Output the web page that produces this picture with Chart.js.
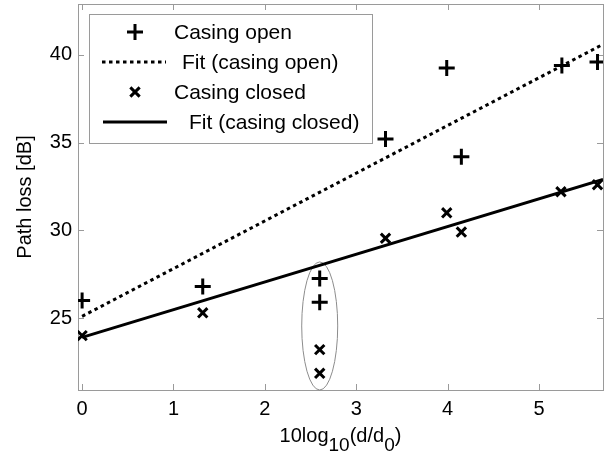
<!DOCTYPE html>
<html>
<head>
<meta charset="utf-8">
<script src="https://cdn.jsdelivr.net/npm/chart.js@4/dist/chart.umd.min.js"></script>
<style>
  body { margin: 0; background: #fff; }
  #wrap { width: 609px; height: 454px; }
</style>
</head>
<body>
<div id="wrap"><canvas id="plot" width="609" height="454"></canvas></div>
<script>
// measured points
const openX = [0, 1.32, 2.60, 2.60, 3.32, 3.99, 4.15, 5.25, 5.64];
const openY = [26.0, 26.8, 27.25, 25.9, 35.2, 39.25, 34.2, 39.4, 39.6];
const closedX = [0, 1.32, 2.60, 2.60, 3.32, 3.99, 4.15, 5.24, 5.64];
const closedY = [24.0, 25.3, 23.2, 21.85, 29.55, 31.0, 29.9, 32.2, 32.6];

// fitted lines (end points)
const fitX = [0, 5.70];
const fitOpenY = [25.1, 40.6];
const fitClosedY = [23.9, 32.9];

const xTicks = [0, 1, 2, 3, 4, 5];
const yTicks = [25, 30, 35, 40];
const labels = ['Casing open', 'Fit (casing open)', 'Casing closed', 'Fit (casing closed)'];

// highlighted group (data units)
const ellipseCenter = [2.60, 24.55];
const ellipseRadii = [0.197, 3.65];

const FONT = '"Liberation Sans", Arial, sans-serif';

function pts(xs, ys) {
    return xs.map((x, i) => ({x: x, y: ys[i]}));
}

function drawMarker(ctx, style, x, y, r) {
    ctx.beginPath();
    if (style === 'cross') {
        ctx.moveTo(x - r, y); ctx.lineTo(x + r, y);
        ctx.moveTo(x, y - r); ctx.lineTo(x, y + r);
    } else {
        let d = r * Math.SQRT1_2;
        ctx.moveTo(x - d, y - d); ctx.lineTo(x + d, y + d);
        ctx.moveTo(x - d, y + d); ctx.lineTo(x + d, y - d);
    }
    ctx.stroke();
}

const framePlugin = {
    id: 'frame',
    beforeDatasetsDraw(chart) {
        const {ctx, chartArea: a, scales} = chart;
        ctx.save();
        ctx.strokeStyle = '#9a9a9a';
        ctx.lineWidth = 1;
        ctx.strokeRect(Math.round(a.left) + 0.5, Math.round(a.top) + 0.5,
            Math.round(a.right - a.left), Math.round(a.bottom - a.top));
        ctx.beginPath();
        xTicks.forEach(v => {
            let px = Math.round(scales.x.getPixelForValue(v)) + 0.5;
            ctx.moveTo(px, a.bottom); ctx.lineTo(px, a.bottom - 6);
            ctx.moveTo(px, a.top); ctx.lineTo(px, a.top + 6);
        });
        yTicks.forEach(v => {
            let py = Math.round(scales.y.getPixelForValue(v)) + 0.5;
            ctx.moveTo(a.left, py); ctx.lineTo(a.left + 6, py);
            ctx.moveTo(a.right, py); ctx.lineTo(a.right - 6, py);
        });
        ctx.stroke();

        // ellipse round the group at 2.6
        let cx = scales.x.getPixelForValue(ellipseCenter[0]);
        let cy = scales.y.getPixelForValue(ellipseCenter[1]);
        let rx = Math.abs(scales.x.getPixelForValue(ellipseCenter[0] + ellipseRadii[0]) - cx);
        let ry = Math.abs(scales.y.getPixelForValue(ellipseCenter[1] + ellipseRadii[1]) - cy);
        ctx.strokeStyle = '#8c8c8c';
        ctx.beginPath();
        ctx.ellipse(cx, cy, rx, ry, 0, 0, Math.PI * 2);
        ctx.stroke();
        ctx.restore();
    },
    afterDraw(chart) {
        const {ctx, chartArea: a} = chart;
        ctx.save();
        // x axis title with subscripts
        const parts = [['10log', 0], ['10', 1], ['(d/d', 0], ['0', 1], [')', 0]];
        let w = 0;
        parts.forEach(p => {
            ctx.font = (p[1] ? 19 : 20) + 'px ' + FONT;
            w += ctx.measureText(p[0]).width;
        });
        let x = (a.left + a.right) / 2 - w / 2;
        ctx.fillStyle = '#000';
        ctx.textBaseline = 'alphabetic';
        parts.forEach(p => {
            ctx.font = (p[1] ? 19 : 20) + 'px ' + FONT;
            ctx.fillText(p[0], x, p[1] ? 451 : 442);
            x += ctx.measureText(p[0]).width;
        });

        // legend box
        ctx.fillStyle = '#fff';
        ctx.fillRect(89, 14, 283, 129);
        ctx.strokeStyle = '#9a9a9a';
        ctx.lineWidth = 1;
        ctx.strokeRect(89.5, 14.5, 283, 129);
        const rows = [32, 62, 92, 122];
        const textX = [174, 182, 174, 189];
        ctx.strokeStyle = '#000';
        ctx.lineWidth = 3;
        drawMarker(ctx, 'cross', 135, rows[0], 8);
        ctx.setLineDash([3.5, 3.5]);
        ctx.beginPath(); ctx.moveTo(102, rows[1]); ctx.lineTo(166, rows[1]); ctx.stroke();
        ctx.setLineDash([]);
        drawMarker(ctx, 'crossRot', 135, rows[2], 6.6);
        ctx.beginPath(); ctx.moveTo(103, rows[3]); ctx.lineTo(167, rows[3]); ctx.stroke();
        ctx.fillStyle = '#000';
        ctx.font = '21px ' + FONT;
        ctx.textBaseline = 'middle';
        labels.forEach((t, i) => ctx.fillText(t, textX[i], rows[i] + 1));
        ctx.restore();
    }
};

new Chart(document.getElementById('plot'), {
    type: 'scatter',
    data: {
        datasets: [{
            label: labels[0],
            data: pts(openX, openY),
            pointStyle: 'cross',
            pointRadius: 8,
            pointBorderWidth: 3,
            borderColor: '#000',
            backgroundColor: '#000',
            showLine: false
        }, {
            label: labels[1],
            data: pts(fitX, fitOpenY),
            showLine: true,
            borderColor: '#000',
            borderWidth: 3,
            borderDash: [3.5, 3.5],
            pointRadius: 0
        }, {
            label: labels[2],
            data: pts(closedX, closedY),
            pointStyle: 'crossRot',
            pointRadius: 6.6,
            pointBorderWidth: 3,
            borderColor: '#000',
            backgroundColor: '#000',
            showLine: false
        }, {
            label: labels[3],
            data: pts(fitX, fitClosedY),
            showLine: true,
            borderColor: '#000',
            borderWidth: 3,
            pointRadius: 0
        }]
    },
    options: {
        responsive: false,
        animation: false,
        layout: {
            autoPadding: false,
            padding: {top: 4, right: 6, left: 0, bottom: 0}
        },
        plugins: {
            legend: { display: false },
            tooltip: { enabled: false }
        },
        scales: {
            x: {
                type: 'linear',
                min: -0.045,
                max: 5.70,
                grid: { display: false, drawTicks: false },
                border: { display: false },
                afterBuildTicks: s => { s.ticks = xTicks.map(v => ({value: v})); },
                afterFit: s => {
                    s.height = 64;
                    s.paddingLeft = 0; s.paddingRight = 0;
                },
                ticks: {
                    color: '#000',
                    padding: 7,
                    maxRotation: 0,
                    font: { family: FONT, size: 20 }
                }
            },
            y: {
                min: 20.9,
                max: 42.9,
                grid: { display: false, drawTicks: false },
                border: { display: false },
                afterBuildTicks: s => { s.ticks = yTicks.map(v => ({value: v})); },
                afterFit: s => {
                    s.width = 78;
                    s.paddingTop = 0; s.paddingBottom = 0;
                },
                ticks: {
                    color: '#000',
                    padding: 6,
                    font: { family: FONT, size: 20 }
                },
                title: {
                    display: true,
                    text: 'Path loss [dB]',
                    color: '#000',
                    padding: {top: 13, bottom: 0},
                    font: { family: FONT, size: 20 }
                }
            }
        }
    },
    plugins: [framePlugin]
});
</script>
</body>
</html>
